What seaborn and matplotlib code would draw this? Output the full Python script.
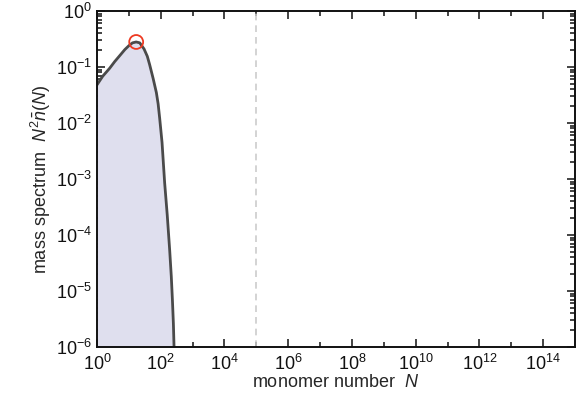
import numpy as np
import pandas as pd
import matplotlib
matplotlib.use("Agg")
import matplotlib.pyplot as plt
import matplotlib.ticker as mticker
import seaborn as sns

# curve: monomer number N and mass spectrum N^2 n(N)
N_vals = [1.0, 1.5, 2.5, 3.6, 5.2, 7.5, 10.0, 13.0, 17.0, 22.0, 30.0, 38.0, 45.0, 58.0,
          73.0, 83.0, 93.0, 110.0, 133.0, 160.0, 191.0, 215.0, 233.0, 250.0, 262.0, 275.0]
spec_vals = [0.048, 0.068, 0.095, 0.125, 0.16, 0.205, 0.24, 0.27, 0.28, 0.27, 0.21, 0.155,
             0.11, 0.062, 0.035, 0.022, 0.012, 0.0045, 8.5e-4, 2.3e-4, 5.4e-5, 1.8e-5,
             6.9e-6, 2.6e-6, 1.0e-6, 5.0e-7]

# peak marker
peak_N = [17.0]
peak_val = [0.28]

# vertical reference line
ref_N = 1e5

xticks = [1e0, 1e2, 1e4, 1e6, 1e8, 1e10, 1e12, 1e14]
xtick_labels = [r"$10^{0}$", r"$10^{2}$", r"$10^{4}$", r"$10^{6}$", r"$10^{8}$",
                r"$10^{10}$", r"$10^{12}$", r"$10^{14}$"]
yticks = [1e-6, 1e-5, 1e-4, 1e-3, 1e-2, 1e-1, 1e0]
ytick_labels = [r"$10^{-6}$", r"$10^{-5}$", r"$10^{-4}$", r"$10^{-3}$", r"$10^{-2}$",
                r"$10^{-1}$", r"$10^{0}$"]

df = pd.DataFrame({"N": N_vals, "spec": spec_vals})

sns.set_style("ticks")
plt.rcParams["font.family"] = ["Liberation Sans", "DejaVu Sans"]
plt.rcParams["mathtext.fontset"] = "custom"
plt.rcParams["mathtext.rm"] = "Liberation Sans"
plt.rcParams["mathtext.it"] = "Liberation Sans:italic"

fig = plt.figure(figsize=(5.8, 3.99), dpi=100)
ax = fig.add_axes([0.1672, 0.1303, 0.8242, 0.8421])

ax.fill_between(df["N"], df["spec"], 1e-7, color="#dfdfee", lw=0)
sns.lineplot(data=df, x="N", y="spec", ax=ax, color="#4a4a4a", lw=2.0)
ax.axvline(ref_N, color="#cccccc", lw=1.2, ls=(0, (4, 3)))
sns.scatterplot(x=peak_N, y=peak_val, ax=ax, s=100, facecolors="none",
                edgecolor="#ee3a22", linewidth=1.3, zorder=5)

ax.set_xscale("log")
ax.set_yscale("log")
ax.set_xlim(1, 1e15)
ax.set_ylim(1e-6, 1)

ax.xaxis.set_major_locator(mticker.FixedLocator(xticks))
ax.set_xticklabels(xtick_labels)
ax.xaxis.set_minor_locator(mticker.FixedLocator([10.0 ** k for k in range(1, 15, 2)]))
ax.xaxis.set_minor_formatter(mticker.NullFormatter())
ax.yaxis.set_major_locator(mticker.FixedLocator(yticks))
ax.set_yticklabels(ytick_labels)
ax.yaxis.set_minor_locator(mticker.LogLocator(base=10, subs=np.arange(2, 10), numticks=20))
ax.yaxis.set_minor_formatter(mticker.NullFormatter())

ax.tick_params(which="both", direction="in", top=True, right=True, labelsize=13,
               colors="#111111", width=1.1)
ax.tick_params(which="major", length=6)
ax.tick_params(which="minor", length=3.5)
ax.tick_params(axis="x", pad=5)
for sp in ax.spines.values():
    sp.set_linewidth(1.4)
    sp.set_color("#111111")

ax.set_xlabel(r"monomer number  $N$", fontsize=13, labelpad=0)
ax.set_ylabel(r"mass spectrum  $N^2\bar{n}(N)$", fontsize=13, labelpad=2)

fig.savefig("out.png", dpi=100)
